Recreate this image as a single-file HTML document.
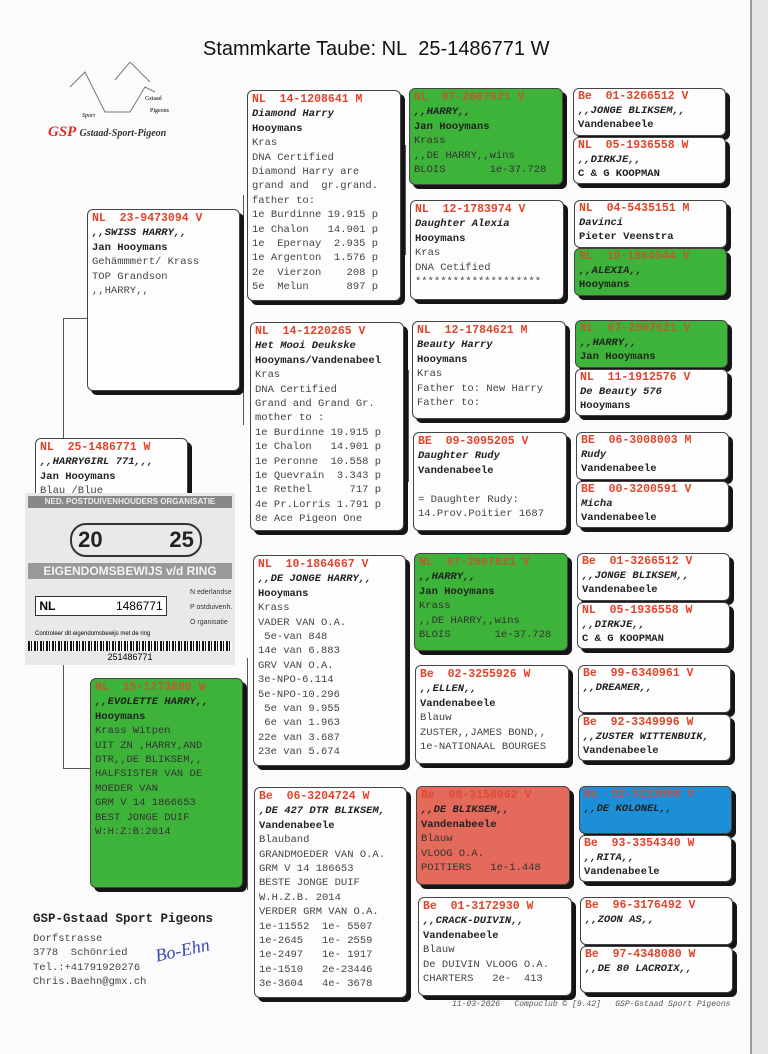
<!DOCTYPE html>
<html><head><meta charset="utf-8"><style>
body{margin:0;width:768px;height:1054px;background:#fbfbfb;position:relative;overflow:hidden;font-family:"Liberation Mono",monospace;}
.b{position:absolute;border:1px solid #444;border-radius:6px;background:#fdfdfd;box-shadow:4px 4px 0 #151515;box-sizing:border-box;padding:2px 4px;font-size:10.5px;line-height:14.4px;color:#444;white-space:pre;overflow:hidden}
.s{line-height:14px;padding-top:1px}
.r{color:#e0442a;font-weight:bold;font-size:11.5px}
.g{background:#3db33a}.g .r{color:#e0442a;opacity:.75}
.red{background:#e46a5c}.red .r{color:#e0442a;opacity:.8}
.blu{background:#1e8fd6}.blu .r{color:#e0442a;opacity:.8}
.i{font-weight:bold;font-style:italic;color:#222}
.k{font-weight:bold;color:#222}
.l{position:absolute;background:#555}
.c{white-space:nowrap}
</style></head><body>
<div style="position:absolute;left:750px;top:0;width:18px;height:1054px;background:#e6e6e6;border-left:2px solid #999"></div>
<div style="position:absolute;left:203px;top:38px;font:20px 'Liberation Sans',sans-serif;color:#111">Stammkarte Taube: NL&nbsp; 25-1486771 W</div>
<svg style="position:absolute;left:60px;top:62px" width="120" height="60"><polyline points="10,25 25,10 45,50 70,50 85,25 95,30" fill="none" stroke="#777"/><polyline points="55,18 70,0 90,20" fill="none" stroke="#777"/><text x="22" y="55" font-size="6" font-family="Liberation Serif" font-style="italic">Sport</text><text x="85" y="38" font-size="6" font-family="Liberation Serif">Gstaad</text><text x="90" y="50" font-size="6" font-family="Liberation Serif">Pigeons</text></svg>
<div style="position:absolute;left:48px;top:124px;font:italic bold 15px 'Liberation Serif',serif;color:#d2312a">GSP <span style="font-size:10px;color:#333">Gstaad-Sport-Pigeon</span></div>

<div class="l" style="left:63px;top:318px;width:1px;height:450px"></div>
<div class="l" style="left:63px;top:318px;width:24px;height:1px"></div>
<div class="l" style="left:63px;top:768px;width:27px;height:1px"></div>
<div class="l" style="left:243px;top:195px;width:1px;height:230px"></div>
<div class="l" style="left:247px;top:658px;width:1px;height:232px"></div>
<div class="l" style="left:405px;top:145px;width:1px;height:110px"></div>
<div class="l" style="left:408px;top:370px;width:1px;height:112px"></div>
<div class="l" style="left:409px;top:603px;width:1px;height:112px"></div>
<div class="l" style="left:410px;top:837px;width:1px;height:110px"></div>

<div class="b" style="left:87px;top:209px;width:153px;height:182px"><span class="r">NL  23-9473094 V</span>
<span class="i">,,SWISS HARRY,,</span>
<span class="k">Jan Hooymans</span>
Gehämmmert/ Krass
TOP Grandson
,,HARRY,,</div>
<div class="b" style="left:35px;top:438px;width:153px;height:70px"><span class="r">NL  25-1486771 W</span>
<span class="i">,,HARRYGIRL 771,,,</span>
<span class="k">Jan Hooymans</span>
Blau /Blue</div>
<div style="position:absolute;left:25px;top:493px;width:210px;height:172px;background:#e9e9e9;font-family:'Liberation Sans',sans-serif">
<div class="c" style="background:#888;color:#eee;font-size:8px;font-weight:bold;margin:3px 3px;text-align:center;line-height:12px">NED. POSTDUIVENHOUDERS ORGANISATIE</div>
<div style="position:absolute;left:45px;top:30px;width:128px;height:30px;border:2px solid #333;border-radius:16px;font-size:22px;font-weight:bold;color:#222;line-height:30px">&nbsp;20<span style="float:right">25&nbsp;</span></div>
<div class="c" style="position:absolute;left:3px;top:70px;width:204px;background:#999;color:#f4f4f4;font-size:12px;font-weight:bold;text-align:center;line-height:16px">EIGENDOMSBEWIJS v/d RING</div>
<div style="position:absolute;left:10px;top:103px;width:130px;height:18px;border:1px solid #333;background:#fff;font-size:12px;line-height:18px"><b>&nbsp;NL</b><span style="float:right">1486771&nbsp;</span></div>
<div style="position:absolute;left:165px;top:92px;font-size:7px;line-height:15px;color:#333">N ederlandse<br>P ostduivenh.<br>O rganisatie</div>
<div class="c" style="position:absolute;left:10px;top:138px;font-size:6px">Controleer dit eigendomsbewijs met de ring</div>
<div style="position:absolute;left:3px;top:148px;width:204px;height:10px;background:repeating-linear-gradient(90deg,#111 0 2px,#fff 2px 3px,#111 3px 4px,#fff 4px 6px)"></div>
<div style="position:absolute;left:0;top:159px;width:210px;text-align:center;font-size:9px">251486771</div></div>
<div class="b g" style="left:90px;top:678px;width:153px;height:210px;color:#333"><span class="r">NL  15-1273889 W</span>
<span class="i">,,EVOLETTE HARRY,,</span>
<span class="k">Hooymans</span>
Krass Witpen
UIT ZN ,HARRY,AND
DTR,,DE BLIKSEM,,
HALFSISTER VAN DE
MOEDER VAN
GRM V 14 1866653
BEST JONGE DUIF
W:H:Z:B:2014</div>

<div class="b" style="left:247px;top:90px;width:154px;height:211px"><span class="r">NL  14-1208641 M</span>
<span class="i">Diamond Harry</span>
<span class="k">Hooymans</span>
Kras
DNA Certified
Diamond Harry are
grand and  gr.grand.
father to:
1e Burdinne 19.915 p
1e Chalon   14.901 p
1e  Epernay  2.935 p
1e Argenton  1.576 p
2e  Vierzon    208 p
5e  Melun      897 p</div>
<div class="b" style="left:250px;top:322px;width:154px;height:209px"><span class="r">NL  14-1220265 V</span>
<span class="i">Het Mooi Deukske</span>
<span class="k">Hooymans/Vandenabeel</span>
Kras
DNA Certified
Grand and Grand Gr.
mother to :
1e Burdinne 19.915 p
1e Chalon   14.901 p
1e Peronne  10.558 p
1e Quevrain  3.343 p
1e Rethel      717 p
4e Pr.Lorris 1.791 p
8e Ace Pigeon One</div>
<div class="b" style="left:253px;top:555px;width:153px;height:211px"><span class="r">NL  10-1864667 V</span>
<span class="i">,,DE JONGE HARRY,,</span>
<span class="k">Hooymans</span>
Krass
VADER VAN O.A.
 5e-van 848
14e van 6.883
GRV VAN O.A.
3e-NPO-6.114
5e-NPO-10.296
 5e van 9.955
 6e van 1.963
22e van 3.687
23e van 5.674</div>
<div class="b" style="left:254px;top:787px;width:153px;height:211px"><span class="r">Be  06-3204724 W</span>
<span class="i">,DE 427 DTR BLIKSEM,</span>
<span class="k">Vandenabeele</span>
Blauband
GRANDMOEDER VAN O.A.
GRM V 14 186653
BESTE JONGE DUIF
W.H.Z.B. 2014
VERDER GRM VAN O.A.
1e-11552  1e- 5507
1e-2645   1e- 2559
1e-2497   1e- 1917
1e-1510   2e-23446
3e-3604   4e- 3678</div>

<div class="b g" style="left:409px;top:88px;width:154px;height:97px;color:#333"><span class="r">NL  07-2007621 V</span>
<span class="i">,,HARRY,,</span>
<span class="k">Jan Hooymans</span>
Krass
,,DE HARRY,,wins
BLOIS       1e-37.728</div>
<div class="b" style="left:410px;top:200px;width:154px;height:100px"><span class="r">NL  12-1783974 V</span>
<span class="i">Daughter Alexia</span>
<span class="k">Hooymans</span>
Kras
DNA Cetified
********************</div>
<div class="b" style="left:412px;top:321px;width:154px;height:98px"><span class="r">NL  12-1784621 M</span>
<span class="i">Beauty Harry</span>
<span class="k">Hooymans</span>
Kras
Father to: New Harry
Father to:</div>
<div class="b" style="left:413px;top:432px;width:154px;height:99px"><span class="r">BE  09-3095205 V</span>
<span class="i">Daughter Rudy</span>
<span class="k">Vandenabeele</span>

= Daughter Rudy:
14.Prov.Poitier 1687</div>
<div class="b g" style="left:414px;top:553px;width:154px;height:98px;color:#333"><span class="r">NL  07-2007621 V</span>
<span class="i">,,HARRY,,</span>
<span class="k">Jan Hooymans</span>
Krass
,,DE HARRY,,wins
BLOIS       1e-37.728</div>
<div class="b" style="left:415px;top:665px;width:154px;height:99px"><span class="r">Be  02-3255926 W</span>
<span class="i">,,ELLEN,,</span>
<span class="k">Vandenabeele</span>
Blauw
ZUSTER,,JAMES BOND,,
1e-NATIONAAL BOURGES</div>
<div class="b red" style="left:416px;top:786px;width:154px;height:99px;color:#333"><span class="r">Be  98-3158062 V</span>
<span class="i">,,DE BLIKSEM,,</span>
<span class="k">Vandenabeele</span>
Blauw
VLOOG O.A.
POITIERS   1e-1.448</div>
<div class="b" style="left:418px;top:897px;width:154px;height:99px"><span class="r">Be  01-3172930 W</span>
<span class="i">,,CRACK-DUIVIN,,</span>
<span class="k">Vandenabeele</span>
Blauw
De DUIVIN VLOOG O.A.
CHARTERS   2e-  413</div>

<div class="b s" style="left:573px;top:88px;width:153px;height:48px"><span class="r">Be  01-3266512 V</span>
<span class="i">,,JONGE BLIKSEM,,</span>
<span class="k">Vandenabeele</span></div>
<div class="b s" style="left:573px;top:137px;width:153px;height:47px"><span class="r">NL  05-1936558 W</span>
<span class="i">,,DIRKJE,,</span>
<span class="k">C &amp; G KOOPMAN</span></div>
<div class="b s" style="left:574px;top:200px;width:153px;height:48px"><span class="r">NL  04-5435151 M</span>
<span class="i">Davinci</span>
<span class="k">Pieter Veenstra</span></div>
<div class="b s g" style="left:574px;top:248px;width:153px;height:48px;color:#333"><span class="r">NL  10-1864544 V</span>
<span class="i">,,ALEXIA,,</span>
<span class="k">Hooymans</span></div>
<div class="b s g" style="left:575px;top:320px;width:153px;height:48px;color:#333"><span class="r">NL  07-2007621 V</span>
<span class="i">,,HARRY,,</span>
<span class="k">Jan Hooymans</span></div>
<div class="b s" style="left:575px;top:369px;width:153px;height:47px"><span class="r">NL  11-1912576 V</span>
<span class="i">De Beauty 576</span>
<span class="k">Hooymans</span></div>
<div class="b s" style="left:576px;top:432px;width:153px;height:48px"><span class="r">BE  06-3008003 M</span>
<span class="i">Rudy</span>
<span class="k">Vandenabeele</span></div>
<div class="b s" style="left:576px;top:481px;width:153px;height:47px"><span class="r">BE  00-3200591 V</span>
<span class="i">Micha</span>
<span class="k">Vandenabeele</span></div>
<div class="b s" style="left:577px;top:553px;width:153px;height:48px"><span class="r">Be  01-3266512 V</span>
<span class="i">,,JONGE BLIKSEM,,</span>
<span class="k">Vandenabeele</span></div>
<div class="b s" style="left:577px;top:602px;width:153px;height:47px"><span class="r">NL  05-1936558 W</span>
<span class="i">,,DIRKJE,,</span>
<span class="k">C &amp; G KOOPMAN</span></div>
<div class="b s" style="left:578px;top:665px;width:153px;height:48px"><span class="r">Be  99-6340961 V</span>
<span class="i">,,DREAMER,,</span></div>
<div class="b s" style="left:578px;top:714px;width:153px;height:47px"><span class="r">Be  92-3349996 W</span>
<span class="i">,,ZUSTER WITTENBUIK,</span>
<span class="k">Vandenabeele</span></div>
<div class="b s blu" style="left:579px;top:786px;width:153px;height:48px;color:#222"><span class="r">Be  92-3233008 V</span>
<span class="i">,,DE KOLONEL,,</span></div>
<div class="b s" style="left:579px;top:835px;width:153px;height:47px"><span class="r">Be  93-3354340 W</span>
<span class="i">,,RITA,,</span>
<span class="k">Vandenabeele</span></div>
<div class="b s" style="left:580px;top:897px;width:153px;height:48px"><span class="r">Be  96-3176492 V</span>
<span class="i">,,ZOON AS,,</span></div>
<div class="b s" style="left:580px;top:946px;width:153px;height:47px"><span class="r">Be  97-4348080 W</span>
<span class="i">,,DE 80 LACROIX,,</span></div>

<div style="position:absolute;left:33px;top:912px;font-size:12.5px;font-weight:bold;color:#222">GSP-Gstaad Sport Pigeons</div>
<div style="position:absolute;left:33px;top:932px;font-size:10.5px;line-height:14.4px;color:#444;white-space:pre">Dorfstrasse
3778  Schönried
Tel.:+41791920276
Chris.Baehn@gmx.ch</div>
<div style="position:absolute;left:155px;top:940px;font:italic 18px 'Liberation Serif',serif;color:#3b47b8;transform:rotate(-12deg)">Bo-Ehn</div>
<div style="position:absolute;left:452px;top:1000px;font-size:8px;font-style:italic;color:#555;white-space:pre">11-03-2026   Compuclub © [9.42]   GSP-Gstaad Sport Pigeons</div>
</body></html>
